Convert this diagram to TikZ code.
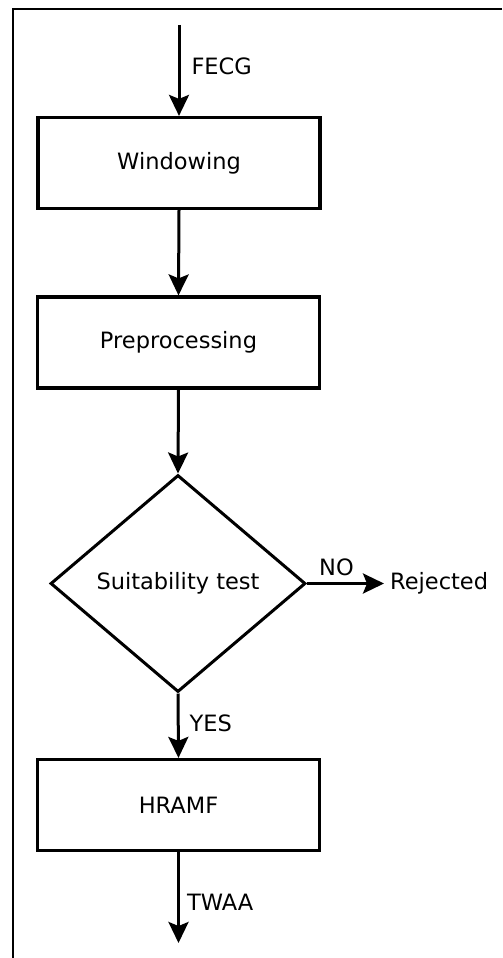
\documentclass[tikz,border=0pt]{standalone}
\usepackage{fontspec}
\setmainfont{DejaVu Sans}
\usetikzlibrary{shapes.geometric,arrows.meta}
\begin{document}
\begin{tikzpicture}[x=1pt,y=-1pt,
  every node/.style={font=\fontsize{22.5}{27}\selectfont, text=black},
  procbox/.style={draw, line width=3.2pt, rectangle, minimum width=282pt, minimum height=91pt, inner sep=0pt},
  decbox/.style={draw, line width=3pt, diamond, minimum width=255pt, minimum height=217pt, inner sep=0pt},
  flow/.style={line width=3pt, -{Stealth[length=21pt,width=20pt,inset=4pt]}},
  lbl/.style={inner sep=0pt}
]
\useasboundingbox (0,0) rectangle (503,958);
\draw[line width=2.4pt] (502,9) -- (13,9) -- (13,958);

\coordinate (in) at (179,25);
\node[procbox] (win) at (179,163) {Windowing};
\node[procbox] (pre) at (178.5,342.5) {Preprocessing};
\node[decbox] (suit) at (178,583.5) {Suitability test};
\node[lbl, anchor=west] (rej) at (390,583.5) {Rejected};
\node[procbox] (hr) at (178.5,805) {HRAMF};
\coordinate (out) at (178.5,943);

\draw[flow] (in) -- (win.north) node[lbl, pos=0.45, anchor=west, xshift=11pt] (fecg) {FECG};
\draw[flow] (win.south) -- (pre.north);
\draw[flow] (pre.south) -- (suit.north);
\draw[flow, shorten >=6pt] (suit.east) -- (rej.west) node[lbl, midway, anchor=south, yshift=6pt, xshift=-12pt] (no) {NO};
\draw[flow] (suit.south) -- (hr.north) node[lbl, pos=0.47, anchor=west, xshift=10pt] (yes) {YES};
\draw[flow] (hr.south) -- (out) node[lbl, pos=0.55, anchor=west, xshift=7pt] (twaa) {TWAA};
\end{tikzpicture}
\end{document}
